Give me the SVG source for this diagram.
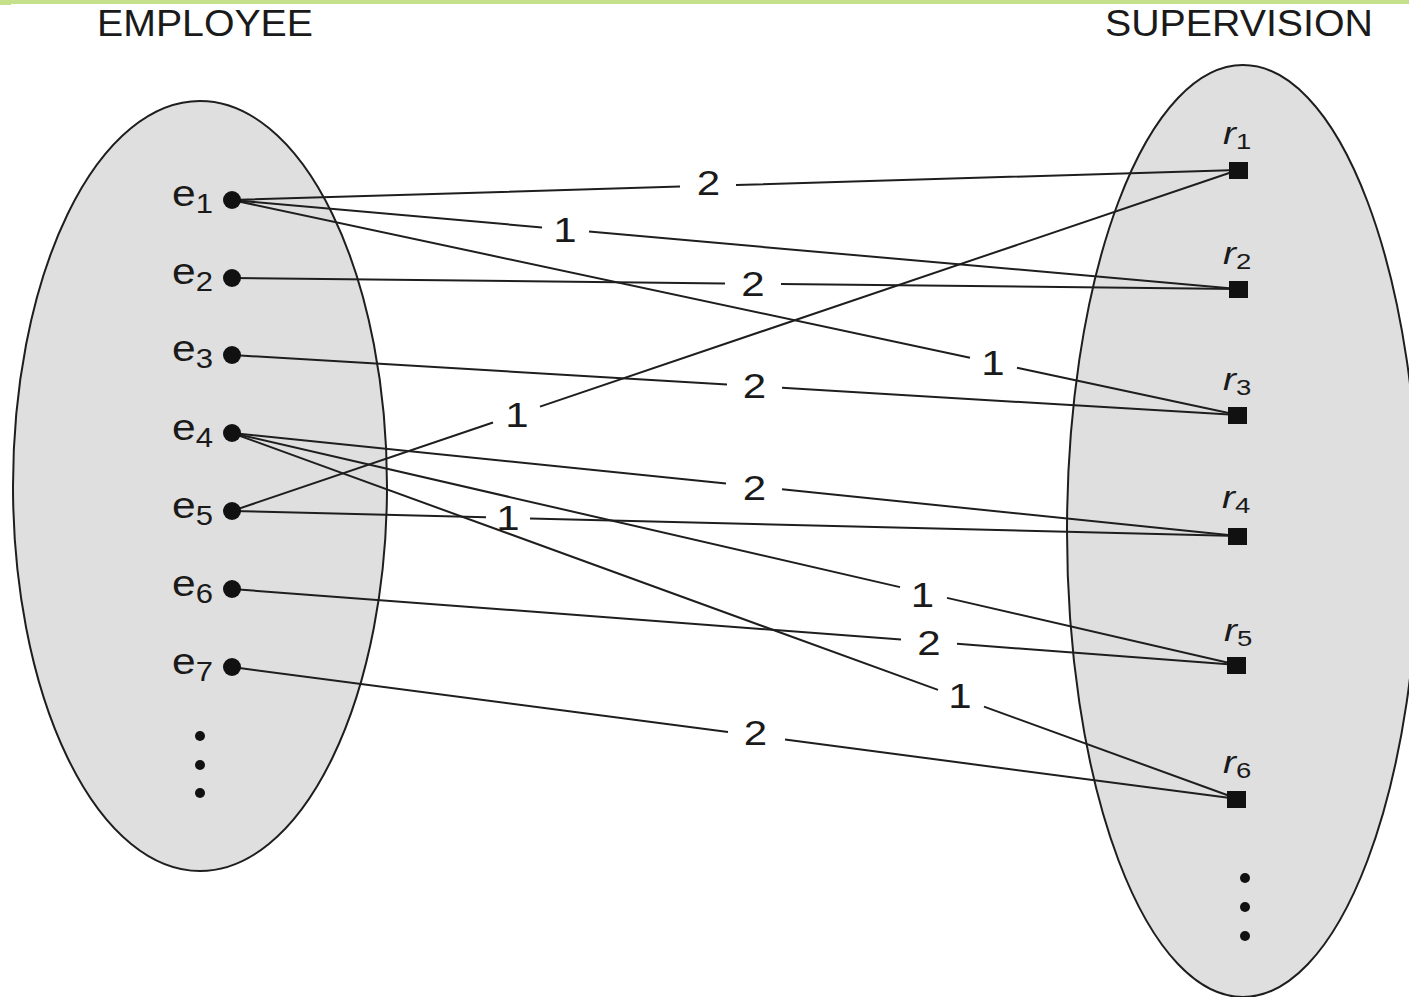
<svg xmlns="http://www.w3.org/2000/svg" width="1409" height="997" viewBox="0 0 1409 997">
<style>
.set{fill:#dfdfdf;stroke:#1e1e1e;stroke-width:2}
.conn path{fill:none;stroke:#1e1e1e;stroke-width:2}
.dot{fill:#111}
.sq{fill:#111}
text{font-family:"Liberation Sans",Arial,sans-serif;fill:#1a1a1a}
.head{font-size:36px}
.lab{font-size:35px;text-anchor:middle}
.el{font-size:37px}
.esub{font-size:27px}
.rl{font-size:31px;font-style:italic}
.rsub{font-size:22px;font-style:normal}
</style>
<rect x="0" y="0" width="1409" height="4" fill="#c5e08a"/>
<rect x="0" y="0" width="11" height="5" fill="#c5e08a"/>

<g id="employee-set">
<ellipse class="set" cx="200" cy="486" rx="187" ry="385"/>
<text class="head" x="97" y="36" textLength="216" lengthAdjust="spacingAndGlyphs">EMPLOYEE</text>
<circle class="dot" cx="200" cy="736" r="5"/>
<circle class="dot" cx="200" cy="765" r="5"/>
<circle class="dot" cx="200" cy="793" r="5"/>
</g>

<g id="supervision-set">
<ellipse class="set" cx="1243" cy="531" rx="176" ry="466"/>
<text class="head" x="1105" y="36" textLength="268" lengthAdjust="spacingAndGlyphs">SUPERVISION</text>
<circle class="dot" cx="1245" cy="878" r="5"/>
<circle class="dot" cx="1245" cy="907" r="5"/>
<circle class="dot" cx="1245" cy="936" r="5"/>
</g>

<g id="connectors" class="conn">
<path d="M232,200 L680,186.6 M736,185 L1238,170"/>
<path d="M232,200 L542,227.4 M589,231.6 L1238,289"/>
<path d="M232,200 L970,357.7 M1017,367.8 L1238,415"/>
<path d="M232,278 L725,283.4 M781,284 L1238,289"/>
<path d="M232,355 L727,384.5 M782,387.8 L1238,415"/>
<path d="M232,433 L726,483.6 M782,489.3 L1238,536"/>
<path d="M232,433 L900,587.1 M947,597.9 L1238,665"/>
<path d="M232,433 L938,689.9 M984,706.6 L1238,799"/>
<path d="M232,511 L493,422.5 M540,406.6 L1238,170"/>
<path d="M232,511 L486,517.3 M530,518.4 L1238,536"/>
<path d="M232,589 L901,639.5 M957,643.8 L1238,665"/>
<path d="M232,667 L728,732.1 M785,739.6 L1238,799"/>
</g>

<g id="connector-labels">
<text class="lab" transform="matrix(1.2 0 0 1 708.5 195)">2</text>
<text class="lab" transform="matrix(1.2 0 0 1 565 242)">1</text>
<text class="lab" transform="matrix(1.2 0 0 1 993 374.5)">1</text>
<text class="lab" transform="matrix(1.2 0 0 1 753 296)">2</text>
<text class="lab" transform="matrix(1.2 0 0 1 754.5 397.5)">2</text>
<text class="lab" transform="matrix(1.2 0 0 1 754.5 499.5)">2</text>
<text class="lab" transform="matrix(1.2 0 0 1 922.5 607)">1</text>
<text class="lab" transform="matrix(1.2 0 0 1 960 707.5)">1</text>
<text class="lab" transform="matrix(1.2 0 0 1 517 427)">1</text>
<text class="lab" transform="matrix(1.2 0 0 1 508 529.5)">1</text>
<text class="lab" transform="matrix(1.2 0 0 1 929 655)">2</text>
<text class="lab" transform="matrix(1.2 0 0 1 755.5 745)">2</text>
</g>

<g id="e1"><circle class="dot" cx="232" cy="200" r="9"/><text class="el" transform="matrix(1.15 0 0 1 172 206)">e<tspan class="esub" dy="7">1</tspan></text></g>
<g id="e2"><circle class="dot" cx="232" cy="278" r="9"/><text class="el" transform="matrix(1.15 0 0 1 172 284)">e<tspan class="esub" dy="7">2</tspan></text></g>
<g id="e3"><circle class="dot" cx="232" cy="355" r="9"/><text class="el" transform="matrix(1.15 0 0 1 172 361)">e<tspan class="esub" dy="7">3</tspan></text></g>
<g id="e4"><circle class="dot" cx="232" cy="433" r="9"/><text class="el" transform="matrix(1.15 0 0 1 172 440)">e<tspan class="esub" dy="7">4</tspan></text></g>
<g id="e5"><circle class="dot" cx="232" cy="511" r="9"/><text class="el" transform="matrix(1.15 0 0 1 172 518)">e<tspan class="esub" dy="7">5</tspan></text></g>
<g id="e6"><circle class="dot" cx="232" cy="589" r="9"/><text class="el" transform="matrix(1.15 0 0 1 172 596)">e<tspan class="esub" dy="7">6</tspan></text></g>
<g id="e7"><circle class="dot" cx="232" cy="667" r="9"/><text class="el" transform="matrix(1.15 0 0 1 172 674)">e<tspan class="esub" dy="7">7</tspan></text></g>

<g id="r1"><rect class="sq" x="1229" y="162" width="19" height="17"/><text class="rl" transform="matrix(1.25 0 0 1 1223 144)">r<tspan class="rsub" dy="5">1</tspan></text></g>
<g id="r2"><rect class="sq" x="1229" y="281" width="19" height="17"/><text class="rl" transform="matrix(1.25 0 0 1 1223 264)">r<tspan class="rsub" dy="5">2</tspan></text></g>
<g id="r3"><rect class="sq" x="1228" y="407" width="19" height="17"/><text class="rl" transform="matrix(1.25 0 0 1 1223 390)">r<tspan class="rsub" dy="5">3</tspan></text></g>
<g id="r4"><rect class="sq" x="1228" y="528" width="19" height="17"/><text class="rl" transform="matrix(1.25 0 0 1 1222 508)">r<tspan class="rsub" dy="5">4</tspan></text></g>
<g id="r5"><rect class="sq" x="1227" y="657" width="19" height="17"/><text class="rl" transform="matrix(1.25 0 0 1 1224 641)">r<tspan class="rsub" dy="5">5</tspan></text></g>
<g id="r6"><rect class="sq" x="1227" y="791" width="19" height="17"/><text class="rl" transform="matrix(1.25 0 0 1 1223 773)">r<tspan class="rsub" dy="5">6</tspan></text></g>
</svg>
